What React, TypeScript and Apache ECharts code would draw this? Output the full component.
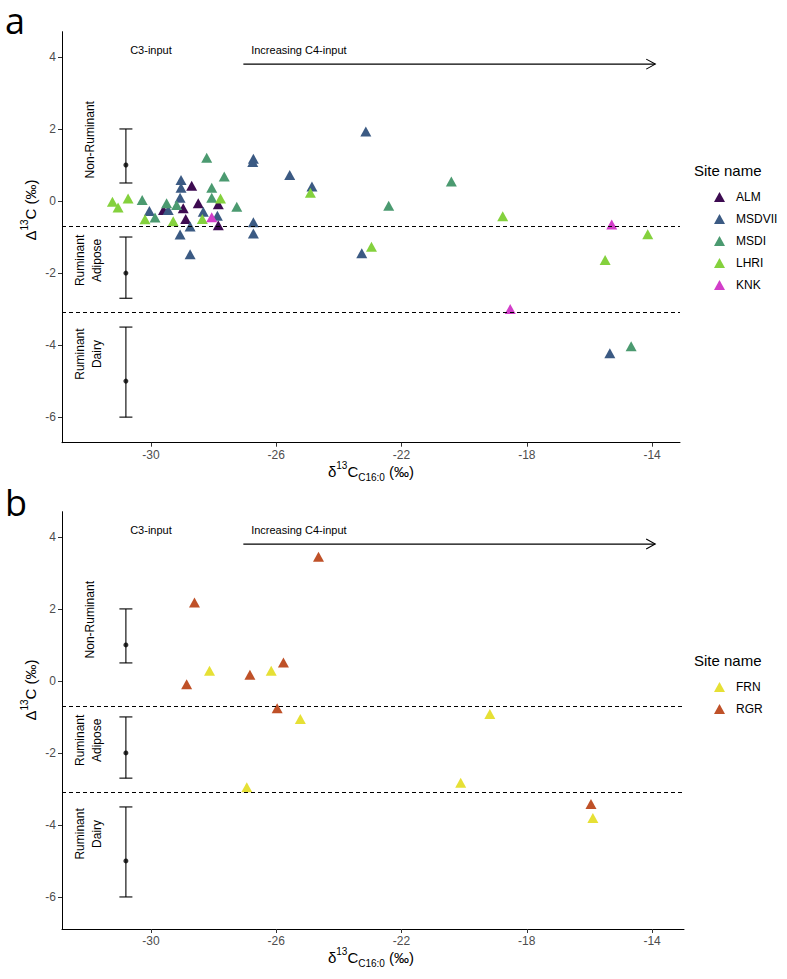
import React, { useEffect, useRef } from "react";
import * as echarts from "echarts";

// ---------- data ----------
const xTicks = [-30, -26, -22, -18, -14];
const yTicks = [-6, -4, -2, 0, 2, 4];
const thresholds = [-0.7, -3.1];

// reference ranges (error bars)
const errX = [-30.8, -30.8, -30.8];
const errMid = [1, -2, -5];
const errLow = [0.5, -2.7, -6];
const errHigh = [2, -1, -3.5];

const regionLabels = ["Non-Ruminant", "Ruminant\nAdipose", "Ruminant\nDairy"];
const regionLabelX = [-31.95, -32.0, -32.0];
const regionLabelY = [1.7, -1.65, -4.25];

const inputLabels = ["C3-input", "Increasing C4-input"];
const inputLabelX = [-30.0, -26.8];
const inputLabelY = [4.18, 4.18];
const arrowFrom = -27.05;
const arrowTo = -13.9;
const arrowY = 3.8;

// panel a
const siteNamesA = ["ALM", "MSDVII", "MSDI", "LHRI", "KNK"];
const almA = [[-28.7, 0.42], [-29.6, -0.25], [-28.97, -0.2], [-28.49, -0.06], [-28.89, -0.5], [-27.85, -0.09], [-27.85, -0.67]];
const msdviiA = [[-29.04, 0.58], [-29.04, 0.37], [-29.07, 0.09], [-30.05, -0.28], [-29.45, -0.25], [-28.33, -0.3], [-28.75, -0.71], [-29.07, -0.93], [-28.75, -1.48], [-27.88, -0.41], [-26.73, 1.17], [-26.75, 1.08], [-26.73, -0.59], [-26.73, -0.9], [-25.57, 0.72], [-24.86, 0.4], [-23.14, 1.93], [-23.27, -1.45], [-15.35, -4.23]];
const msdiA = [[-28.22, 1.2], [-27.66, 0.68], [-28.06, 0.37], [-28.06, 0.09], [-30.28, 0.03], [-29.87, -0.46], [-29.5, -0.06], [-29.18, -0.11], [-27.26, -0.16], [-22.41, -0.13], [-20.41, 0.54], [-14.67, -4.03]];
const lhriA = [[-31.23, -0.02], [-31.05, -0.18], [-30.73, 0.07], [-30.19, -0.51], [-29.29, -0.56], [-28.36, -0.5], [-27.78, 0.07], [-24.91, 0.23], [-22.96, -1.27], [-18.77, -0.42], [-15.5, -1.64], [-14.14, -0.92]];
const knkA = [[-28.06, -0.45], [-18.53, -3.0], [-15.29, -0.65]];

// panel b
const siteNamesB = ["FRN", "RGR"];
const frnB = [[-28.13, 0.28], [-26.16, 0.28], [-25.23, -1.06], [-26.94, -2.95], [-20.11, -2.83], [-19.18, -0.92], [-15.89, -3.81]];
const rgrB = [[-24.65, 3.45], [-28.61, 2.18], [-28.86, -0.09], [-26.84, 0.17], [-25.77, 0.51], [-25.97, -0.76], [-15.95, -3.42]];

// ---------- styles ----------
const colorsA = ["#3d0b51", "#3b5a83", "#4b9a70", "#84d13d", "#d23ec9"];
const colorsB = ["#e6e035", "#bf5128"];
const FONT = "'Liberation Sans', Arial, sans-serif";

const makeAxes = (idx: number, xmax: number, ymin: number) => ({
  x: {
    type: "value",
    gridIndex: idx,
    min: -32.84,
    max: xmax,
    splitLine: { show: false },
    axisLine: { show: true, onZero: false, lineStyle: { color: "#000", width: 1 } },
    axisTick: { show: true, customValues: xTicks, length: 4, lineStyle: { color: "#333" } },
    axisLabel: { customValues: xTicks, color: "#4d4d4d", fontSize: 12, fontFamily: FONT, margin: 6 },
  },
  y: {
    type: "value",
    gridIndex: idx,
    min: ymin,
    max: 4.7,
    splitLine: { show: false },
    axisLine: { show: true, onZero: false, lineStyle: { color: "#000", width: 1 } },
    axisTick: { show: true, customValues: yTicks, length: 4, lineStyle: { color: "#333" } },
    axisLabel: { customValues: yTicks, color: "#4d4d4d", fontSize: 12, fontFamily: FONT, margin: 6 },
  },
});

const panelSeries = (idx: number): any[] => {
  const errData = errX.map((x, i) => [x, errLow[i], errHigh[i]]);
  const midData = errX.map((x, i) => [x, errMid[i]]);
  const regData = regionLabelX.map((x, i) => [x, regionLabelY[i]]);
  const inData = inputLabelX.map((x, i) => [x, inputLabelY[i]]);
  return [
    {
      type: "custom",
      name: "errbar" + idx,
      xAxisIndex: idx,
      yAxisIndex: idx,
      data: errData,
      silent: true,
      renderItem: (params: any, api: any) => {
        const x = api.value(0);
        const top = api.coord([x, api.value(2)]);
        const bot = api.coord([x, api.value(1)]);
        const c = 6.5;
        const st = { stroke: "#000", lineWidth: 1.1 };
        return {
          type: "group",
          children: [
            { type: "line", shape: { x1: top[0], y1: top[1], x2: bot[0], y2: bot[1] }, style: st },
            { type: "line", shape: { x1: top[0] - c, y1: top[1], x2: top[0] + c, y2: top[1] }, style: st },
            { type: "line", shape: { x1: bot[0] - c, y1: bot[1], x2: bot[0] + c, y2: bot[1] }, style: st },
          ],
        };
      },
    },
    {
      type: "scatter",
      name: "mid" + idx,
      xAxisIndex: idx,
      yAxisIndex: idx,
      data: midData,
      symbol: "circle",
      symbolSize: 5,
      itemStyle: { color: "#000" },
      silent: true,
      markLine: {
        silent: true,
        symbol: ["none", "none"],
        label: { show: false },
        lineStyle: { color: "#000", type: [4, 3], width: 1.1 },
        data: thresholds.map((t) => ({ yAxis: t })),
      },
    },
    {
      type: "custom",
      name: "regions" + idx,
      xAxisIndex: idx,
      yAxisIndex: idx,
      data: regData,
      silent: true,
      renderItem: (params: any, api: any) => {
        const p = api.coord([api.value(0), api.value(1)]);
        return {
          type: "text",
          x: p[0],
          y: p[1],
          rotation: Math.PI / 2,
          style: {
            text: regionLabels[params.dataIndex],
            fill: "#000",
            font: `12px ${FONT}`,
            lineHeight: 17,
            align: "center",
            verticalAlign: "middle",
          },
        };
      },
    },
    {
      type: "custom",
      name: "inputs" + idx,
      xAxisIndex: idx,
      yAxisIndex: idx,
      data: inData,
      silent: true,
      renderItem: (params: any, api: any) => {
        const p = api.coord([api.value(0), api.value(1)]);
        return {
          type: "text",
          x: p[0],
          y: p[1],
          style: {
            text: inputLabels[params.dataIndex],
            fill: "#000",
            font: `11px ${FONT}`,
            align: params.dataIndex === 0 ? "center" : "left",
            verticalAlign: "middle",
          },
        };
      },
    },
    {
      type: "custom",
      name: "arrow" + idx,
      xAxisIndex: idx,
      yAxisIndex: idx,
      data: [[arrowFrom, arrowTo, arrowY]],
      silent: true,
      renderItem: (params: any, api: any) => {
        const a = api.coord([api.value(0), api.value(2)]);
        const b = api.coord([api.value(1), api.value(2)]);
        const st = { stroke: "#000", lineWidth: 1.1, fill: "none" };
        return {
          type: "group",
          children: [
            { type: "line", shape: { x1: a[0], y1: a[1], x2: b[0], y2: b[1] }, style: st },
            {
              type: "polyline",
              shape: { points: [[b[0] - 9, b[1] - 5], [b[0], b[1]], [b[0] - 9, b[1] + 5]] },
              style: st,
            },
          ],
        };
      },
    },
  ];
};

const siteSeries = (names: string[], datas: number[][][], colors: string[], idx: number) =>
  names.map((n, i) => ({
    type: "scatter",
    name: n,
    xAxisIndex: idx,
    yAxisIndex: idx,
    data: datas[i],
    symbol: "triangle",
    symbolSize: [11, 10],
    itemStyle: { color: colors[i], opacity: 1 },
  }));

const xTitle = (y: number) => ({
  type: "text",
  x: 371,
  y,
  style: {
    text: "{a|δ}{sup|13}{a|C}{sub|C16:0}{a| (‰)}",
    align: "center",
    verticalAlign: "middle",
    rich: {
      a: { fontSize: 15, fontFamily: FONT, fill: "#000", lineHeight: 22, verticalAlign: "middle" },
      sup: { fontSize: 10, fontFamily: FONT, fill: "#000", lineHeight: 10, verticalAlign: "top" },
      sub: { fontSize: 10, fontFamily: FONT, fill: "#000", lineHeight: 10, verticalAlign: "bottom" },
    },
  },
});

const yTitle = (y: number) => ({
  type: "text",
  x: 30,
  y,
  rotation: Math.PI / 2,
  style: {
    text: "{a|Δ}{sup|13}{a|C (‰)}",
    align: "center",
    verticalAlign: "middle",
    rich: {
      a: { fontSize: 15, fontFamily: FONT, fill: "#000", lineHeight: 22, verticalAlign: "middle" },
      sup: { fontSize: 10, fontFamily: FONT, fill: "#000", lineHeight: 10, verticalAlign: "top" },
    },
  },
});

const legendBase = {
  orient: "vertical",
  left: 709,
  icon: "triangle",
  itemWidth: 11,
  itemHeight: 10,
  itemGap: 8,
  selectedMode: false,
  textStyle: { fontSize: 12, fontFamily: FONT, color: "#000", padding: [0, 0, 0, 6], lineHeight: 14 },
};

const App: React.FC = () => {
  const ref = useRef<HTMLDivElement>(null);
  useEffect(() => {
    if (!ref.current) return;
    const chart = echarts.init(ref.current, undefined, { renderer: "svg" });
    const ax0 = makeAxes(0, -13.11, -6.71);
    const ax1 = makeAxes(1, -12.98, -6.89);
    const option: any = {
      animation: false,
      backgroundColor: "#fff",
      grid: [
        { left: 62, top: 31.7, width: 618, height: 411 },
        { left: 62, top: 511.7, width: 622, height: 417.3 },
      ],
      xAxis: [ax0.x, ax1.x],
      yAxis: [ax0.y, ax1.y],
      legend: [
        { ...legendBase, data: siteNamesA, top: 185 },
        { ...legendBase, data: siteNamesB, top: 675 },
      ],
      graphic: [
        { type: "text", left: 5, top: 2, style: { text: "a", font: `36px 'Open Sans', ${FONT}`, lineHeight: 22, fill: "#000" } },
        { type: "text", left: 5, top: 484, style: { text: "b", font: `36px 'Open Sans', ${FONT}`, lineHeight: 22, fill: "#000" } },
        { type: "text", x: 694, y: 170, style: { text: "Site name", font: `15px ${FONT}`, fill: "#000", verticalAlign: "middle" } },
        { type: "text", x: 694, y: 660, style: { text: "Site name", font: `15px ${FONT}`, fill: "#000", verticalAlign: "middle" } },
        xTitle(471),
        xTitle(957),
        yTitle(210),
        yTitle(690),
      ],
      series: [
        ...panelSeries(0),
        ...siteSeries(siteNamesA, [almA, msdviiA, msdiA, lhriA, knkA], colorsA, 0),
        ...panelSeries(1),
        ...siteSeries(siteNamesB, [frnB, rgrB], colorsB, 1),
      ],
    };
    chart.setOption(option);
    return () => chart.dispose();
  }, []);
  return (
    <div
      ref={ref}
      style={{ position: "fixed", left: 0, top: 0, width: 787, height: 979, background: "#fff" }}
    />
  );
};

export default App;
